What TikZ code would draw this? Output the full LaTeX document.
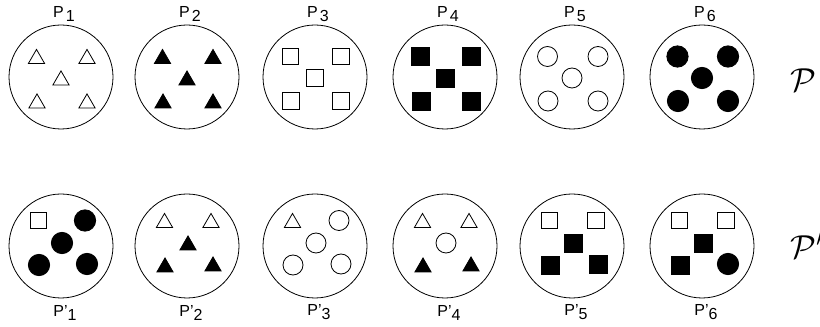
\documentclass[tikz,border=0pt]{standalone}
\usepackage{fontspec}
\setmainfont{Liberation Sans}
\usetikzlibrary{shapes.geometric}
\begin{document}
\begin{tikzpicture}
  [x=0.75pt,y=-0.75pt,
   ring/.style={circle,draw,line width=0.6pt,minimum size=78pt,inner sep=0},
   otri/.style={regular polygon,regular polygon sides=3,draw,line width=0.6pt,minimum size=14pt,inner sep=0,yshift=-1.7pt},
   ftri/.style={otri,fill=black},
   osq/.style={rectangle,draw,line width=0.6pt,minimum size=12.5pt,inner sep=0},
   fsq/.style={osq,fill=black,minimum size=13.5pt},
   ocirc/.style={circle,draw,line width=0.6pt,minimum size=15pt,inner sep=0},
   fcirc/.style={ocirc,fill=black,minimum size=16pt},
   lab/.style={font=\fontsize{12}{12}\selectfont,inner sep=0}]
  \useasboundingbox (0,0) rectangle (820,327);
  % upper row: one kind of token per set
  \foreach \n/\cx/\s in {1/61/otri,2/187/ftri,3/315/osq,4/445/fsq,5/572/ocirc,6/702/fcirc}
  {
    \node[ring] (t\n) at (\cx,77) {};
    \node[lab] (tl\n) at (\cx+3,14) {P\kern1.5pt\raisebox{-3pt}{\n}};
    \node[\s] (t\n-a) at (\cx-24.5,56.5) {};
    \node[\s] (t\n-b) at (\cx+26,56.5) {};
    \node[\s] (t\n-c) at (\cx,78) {};
    \node[\s] (t\n-d) at (\cx-24,101) {};
    \node[\s] (t\n-e) at (\cx+26,101) {};
  }
  % lower row: mixed sets
  \foreach \n/\cx/\sa/\sb/\sc/\sd/\se in {1/61/osq/fcirc/fcirc/fcirc/fcirc,
      2/187/otri/otri/ftri/ftri/ftri,
      3/315/otri/ocirc/ocirc/ocirc/ocirc,
      4/445/otri/otri/ocirc/ftri/ftri,
      5/572/osq/osq/fsq/fsq/fsq,
      6/702/osq/osq/fsq/fsq/fcirc}
  {
    \node[ring] (b\n) at (\cx,246) {};
    \node[lab] (bl\n) at (\cx+4,312.5) {P'\raisebox{-3pt}{\n}};
    \node[\sa] (b\n-a) at (\cx-22.5,220.5) {};
    \node[\sb] (b\n-b) at (\cx+24,220.5) {};
    \node[\sc] (b\n-c) at (\cx+1,243) {};
    \node[\sd] (b\n-d) at (\cx-22,265) {};
    \node[\se] (b\n-e) at (\cx+26,264) {};
  }
  \node[anchor=west,inner sep=0] (pset) at (790,80) {\fontsize{32}{32}\selectfont$\mathcal{P}$};
  \node[anchor=west,inner sep=0] (qset) at (790,245) {\fontsize{32}{32}\selectfont$\mathcal{P}'$};
\end{tikzpicture}
\end{document}
